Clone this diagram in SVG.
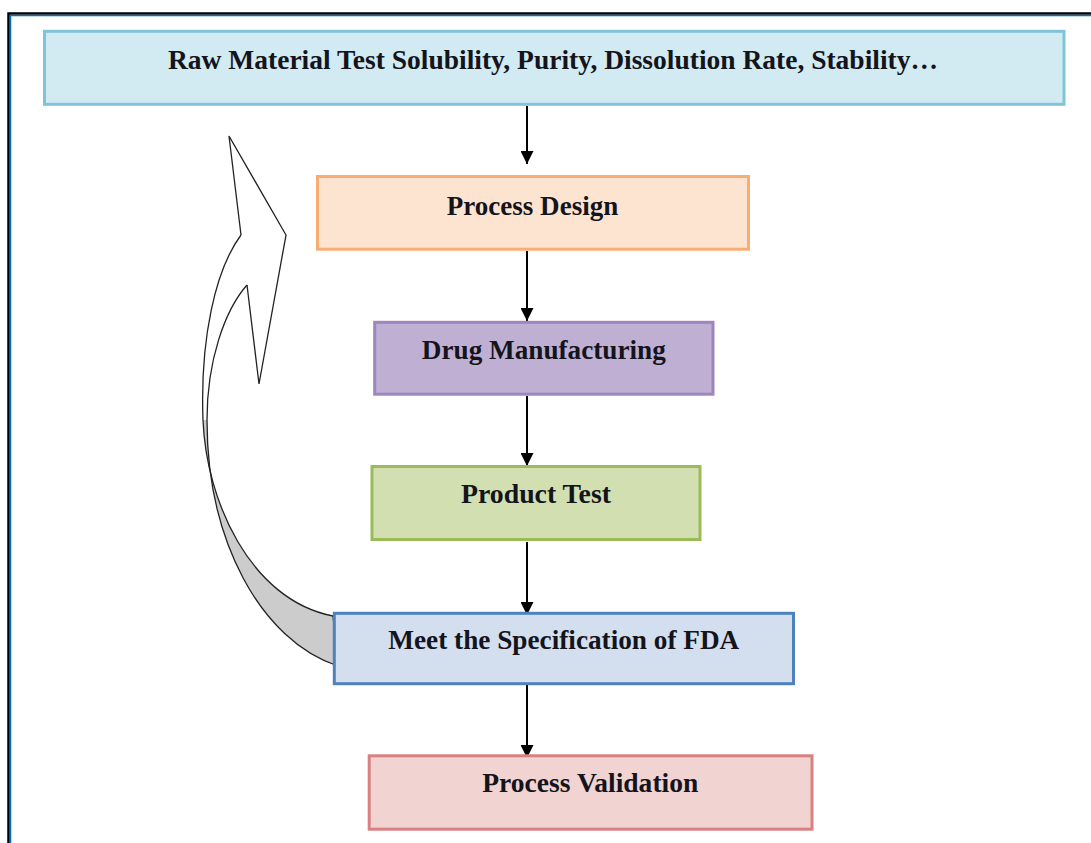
<svg xmlns="http://www.w3.org/2000/svg" width="1091" height="843" viewBox="0 0 1091 843">
<style>
.lbl{font-family:"Liberation Serif","Times New Roman",serif;font-weight:bold;font-size:26.5px;fill:#14141c;text-anchor:middle}
.box{stroke-width:3}
.conn{stroke:#000;stroke-width:2;fill:none}
.out{fill:none;stroke:#222;stroke-width:1.3;stroke-linejoin:miter}
</style>
<defs>
<marker id="ah" markerWidth="13" markerHeight="13" refX="13" refY="6.5" orient="auto" markerUnits="userSpaceOnUse">
<path d="M0,0 L13,6.5 L0,13 Z" fill="#000"/>
</marker>
</defs>
<rect width="1091" height="843" fill="#fff"/>
<g id="frame">
<path d="M8.5,843 V13.5 H1091" fill="none" stroke="#000" stroke-width="2.5"/>
<path d="M10.5,843 V15.5 H1091" fill="none" stroke="#0070c0" stroke-width="1.5"/>
</g>
<g id="feedback-arrow">
<path d="M203,420 C206,500 250,600 333,616 L338,666 C260,640 207,540 207,420 Z" fill="#cccccc"/>
<path d="M229,136 L286,235 L259,384 L247,285 C225,310 207,360 207,420 L203,420 C200,340 215,270 241,235 Z" fill="#fff"/>
<path class="out" d="M241,235 C215,270 200,340 203,420 C206,500 250,600 333,616"/>
<path class="out" d="M247,285 C225,310 207,360 207,420 C207,540 260,640 338,666"/>
<path class="out" d="M241,235 L229,136 L286,235 L259,384 L247,285"/>
<path class="out" d="M333,616 L338,666"/>
</g>
<g id="connectors">
<line class="conn" x1="527" y1="106" x2="527" y2="164" marker-end="url(#ah)"/>
<line class="conn" x1="527" y1="251" x2="527" y2="321" marker-end="url(#ah)"/>
<line class="conn" x1="527" y1="396" x2="527" y2="466" marker-end="url(#ah)"/>
<line class="conn" x1="527" y1="542" x2="527" y2="615" marker-end="url(#ah)"/>
<line class="conn" x1="527" y1="685" x2="527" y2="758" marker-end="url(#ah)"/>
</g>
<g id="raw-material">
<rect class="box" x="44.5" y="31.3" width="1019.5" height="73" fill="#d2eaf2" stroke="#7fc4d8" stroke-width="3.5"/>
<text class="lbl" x="553" y="68.5" textLength="770" lengthAdjust="spacingAndGlyphs">Raw Material Test Solubility, Purity, Dissolution Rate, Stability…</text>
</g>
<g id="process-design">
<rect class="box" x="317.5" y="176.5" width="431" height="72.7" fill="#fde4d0" stroke="#f9ad74"/>
<text class="lbl" x="532.5" y="215" textLength="171.5" lengthAdjust="spacingAndGlyphs">Process Design</text>
</g>
<g id="drug-manufacturing">
<rect class="box" x="374.7" y="322.3" width="338.3" height="71.9" fill="#bfb0d3" stroke="#9b87bd"/>
<text class="lbl" x="543.8" y="358.5" textLength="244" lengthAdjust="spacingAndGlyphs">Drug Manufacturing</text>
</g>
<g id="product-test">
<rect class="box" x="372" y="466.5" width="328" height="73" fill="#d2e0b1" stroke="#9bbb59"/>
<text class="lbl" x="536" y="503" textLength="150" lengthAdjust="spacingAndGlyphs">Product Test</text>
</g>
<g id="meet-specification">
<rect class="box" x="334.3" y="613.3" width="459.2" height="70.4" fill="#d3dfee" stroke="#4f81bd"/>
<text class="lbl" x="563.8" y="649.3" textLength="351" lengthAdjust="spacingAndGlyphs">Meet the Specification of FDA</text>
</g>
<g id="process-validation">
<rect class="box" x="369.2" y="755.8" width="442.8" height="73.4" fill="#f1d3d2" stroke="#d98080"/>
<text class="lbl" x="590.3" y="792.3" textLength="216" lengthAdjust="spacingAndGlyphs">Process Validation</text>
</g>
</svg>
